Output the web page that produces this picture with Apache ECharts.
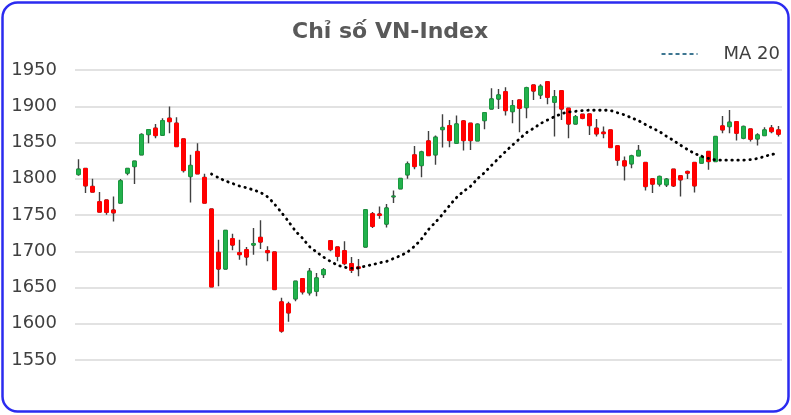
<!DOCTYPE html>
<html>
<head>
<meta charset="utf-8">
<script src="https://cdn.jsdelivr.net/npm/echarts@6/dist/echarts.min.js"></script>
<style>html,body{margin:0;padding:0;background:#fff}#c{width:791px;height:415px}</style>
</head>
<body>
<div id="c"></div>
<script>
const title = 'Chỉ số VN-Index';
const legendName = 'MA 20';
const yTicks = [1550, 1600, 1650, 1700, 1750, 1800, 1850, 1900, 1950];

const openV = [1805.9,1814.2,1789.4,1768.3,1770.6,1756.8,1766.4,1807.7,1816.9,1833,
1861,1869.7,1860,1883.4,1876.6,1855,1803.2,1837.6,1801.8,1758.2,
1698.5,1675.6,1717.4,1698.1,1702.2,1708.6,1719.2,1700.8,1699,1630.2,
1627.4,1634.3,1662.3,1642.6,1644.8,1667.8,1714.6,1705.9,1700.8,1683,
1678.4,1705.9,1751.8,1751.3,1737.5,1775.2,1786.2,1805.4,1833,1818.3,
1852.2,1833,1867.8,1873.3,1849,1879.8,1876.5,1852.2,1880.2,1896.3,
1910.1,1920.1,1892.6,1908.7,1898.1,1929.3,1915.6,1933.9,1905.5,1921.5,
1897.2,1875.6,1888.9,1889.4,1869.7,1864.2,1867.4,1845.4,1824.7,1820.6,
1831.6,1822.4,1799.9,1792.6,1791.7,1813.2,1804.1,1810,1822.4,1821.5,
1837.6,1823.8,1872.9,1872,1878.8,1855.9,1868.7,1855,1859.6,1870.1,
1867.4];
const closeV = [1813.2,1790.3,1781.6,1754,1753.6,1753.1,1797.2,1814.2,1824.3,1861,
1867.8,1859.6,1880.2,1878.8,1844.4,1811.4,1818.3,1806.8,1766.4,1650.8,
1675.6,1728.8,1708.6,1695.3,1692.1,1710.5,1712.8,1698.1,1647.2,1589.8,
1615,1658.6,1643.9,1672.4,1663.2,1674.7,1702.2,1693,1683,1673.8,
1676.5,1757.3,1734.3,1749.5,1759.6,1776.1,1800.4,1820.6,1816.9,1837.1,
1832,1857.3,1870.6,1852.7,1875.6,1852.7,1852.7,1875.2,1891.2,1910.1,
1915.6,1894,1900.9,1897.2,1925.6,1921.1,1927.5,1912.3,1913.3,1896.3,
1875.6,1885.7,1883.4,1873.3,1861.9,1862.3,1843.1,1825.6,1817.8,1831.6,
1838.9,1789.4,1792.6,1803.1,1799.5,1790.3,1798.6,1807.7,1790.3,1829.8,
1823.8,1858.2,1867.4,1877.9,1862.8,1872,1854.5,1860.5,1867.4,1865.1,
1861.4];
const lowV = [1804.1,1780.2,1781.6,1754,1750.4,1741,1766,1805,1792.6,1833,
1849,1855.9,1860,1862.8,1844,1808.6,1767.4,1806.8,1766,1650.5,
1651.7,1675.6,1701.3,1688.4,1680.2,1695.3,1703.1,1686.1,1647,1587.5,
1602.6,1631.1,1640.3,1638.9,1638,1663.2,1699.9,1686.2,1680.6,1670.1,
1665.5,1705.9,1732,1744.9,1732.9,1766.4,1786.2,1799.9,1813.2,1802.2,
1832,1819.2,1843.1,1843.5,1849,1838.9,1839.8,1852.2,1868.3,1896.3,
1896.3,1887.1,1876.5,1864.2,1883.4,1908.7,1910.1,1902.7,1858.2,1881.1,
1855.9,1875.6,1882,1860.5,1858.2,1855.9,1843.1,1817.8,1797.6,1814.6,
1830.7,1783.9,1780.2,1789.4,1788.5,1788.5,1775.6,1799.5,1781.1,1820.6,
1812.3,1823.8,1862.8,1862.8,1852.7,1854.5,1851.3,1845.8,1859.6,1862.8,
1858.2];
const highV = [1827,1814.5,1799.9,1781.6,1771,1775.6,1799.5,1815,1825,1862.8,
1868,1875.6,1883.4,1899.5,1884.8,1855.5,1833,1849,1806.8,1758.5,
1716,1729.7,1724.2,1716,1705.9,1732,1742.6,1706.8,1699.3,1635.7,
1630.2,1659,1662.5,1677,1670.1,1677,1715,1706.2,1713.7,1692.1,
1689.4,1757.5,1754.1,1761.8,1765.1,1783.9,1800.6,1823.8,1845.3,1838.5,
1866,1859.6,1888.9,1881.1,1887.1,1881.1,1876.7,1876.5,1891.4,1924.7,
1923.8,1926.1,1908.7,1909,1927,1930.2,1930.2,1934.2,1922.4,1921.7,
1897.4,1888,1889.1,1889.6,1882.5,1872,1867.6,1845.6,1830.7,1833,
1846.7,1822.6,1800.1,1804.5,1800.9,1813.4,1804.3,1811.4,1822.6,1833,
1837.8,1859.1,1886.6,1894.9,1879,1873.3,1868.9,1862.8,1871,1874.3,
1872.9];
const ma20 = [null,null,null,null,null,null,null,null,null,null,
null,null,null,null,null,null,null,null,null,1806.5,
1801.5,1797,1793.5,1790,1787.5,1784.5,1781,1775,1765,1753.3,
1741,1728,1718,1706.5,1699,1692,1686,1681,1678,1676.5,
1677,1679.5,1681.5,1684,1686,1690,1694,1699,1707,1717,
1730,1740,1751,1763,1774,1782.5,1789.5,1800,1808.5,1818.5,
1828,1837.5,1846.5,1855,1863.5,1869.5,1876,1881,1885.5,1889.5,
1892,1893,1894,1894.5,1894.5,1894.5,1894,1891,1888,1884,
1880,1874.7,1869.7,1865,1858.5,1852.7,1846.3,1840.3,1835,1831,
1828,1826,1825.6,1825.6,1825.6,1825.6,1826.5,1828,1830.7,1833.4,
1835];
const categories = openV.map((_, i) => 'P' + (i + 1));

const fullData = openV.map((o, i) => [o, closeV[i], lowV[i], highV[i]]);
const bodyData = openV.map((o, i) => [o, closeV[i], Math.min(o, closeV[i]), Math.max(o, closeV[i])]);

const legendColor = '#3d7691';

const chart = echarts.init(document.getElementById('c'), null, {renderer: 'canvas'});
chart.setOption({
  animation: false,
  backgroundColor: '#fff',
  title: {
    text: title, left: 287, top: 16,
    textStyle: {fontFamily: 'DejaVu Sans', fontWeight: 'bold', fontSize: 22, color: '#595959'}
  },
  legend: {
    right: 6, top: 40, itemWidth: 36, itemHeight: 14,
    data: [legendName],
    itemStyle: {opacity: 0},
    textStyle: {fontFamily: 'DejaVu Sans', fontSize: 18, color: '#404040', padding: [0, 0, 0, 21]}
  },
  graphic: [{
    type: 'rect', silent: true, z: 100,
    shape: {x: 2.5, y: 2.5, width: 786, height: 409, r: 15},
    style: {fill: 'none', stroke: '#2b2bf0', lineWidth: 2.5}
  }],
  grid: {left: 75, right: 9, top: 70, bottom: 55},
  xAxis: {
    type: 'category', data: categories, boundaryGap: true,
    axisLine: {show: false}, axisTick: {show: false}, axisLabel: {show: false}, splitLine: {show: false}
  },
  yAxis: {
    type: 'value', min: yTicks[0], max: yTicks[yTicks.length - 1], interval: 50,
    axisLine: {show: false}, axisTick: {show: false},
    axisLabel: {fontFamily: 'DejaVu Sans', fontSize: 18, color: '#404040', margin: 18, formatter: v => String(v)},
    splitLine: {lineStyle: {color: '#d9d9d9', width: 1.5}}
  },
  series: [
    {
      type: 'candlestick', name: 'wick', data: fullData, barWidth: 3, barMaxWidth: 3, z: 2,
      itemStyle: {color: '#404040', color0: '#404040', borderColor: '#404040', borderColor0: '#404040', borderWidth: 1.4}
    },
    {
      type: 'candlestick', name: 'body', data: bodyData, barWidth: 4, barMaxWidth: 4, z: 3,
      itemStyle: {color: '#22b14c', color0: '#ff0000', borderColor: '#1b9a40', borderColor0: '#ff0000', borderWidth: 1}
    },
    {
      type: 'line', name: 'MA 20 line', data: ma20, symbol: 'none', smooth: 0.3, z: 4,
      lineStyle: {color: '#000', width: 2.8, type: [0.5, 5.5], cap: 'round'}
    },
    {
      type: 'line', name: legendName, data: [], symbol: 'none',
      itemStyle: {color: legendColor, opacity: 0},
      lineStyle: {color: legendColor, width: 1.6, type: [4, 3], opacity: 1}
    }
  ]
});
</script>
</body>
</html>
